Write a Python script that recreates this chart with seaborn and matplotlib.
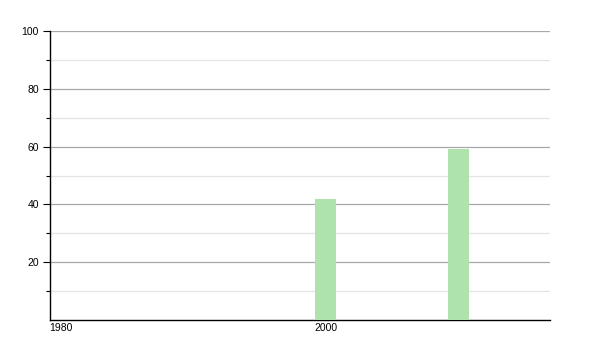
import matplotlib
matplotlib.use("Agg")
import matplotlib.pyplot as plt
import seaborn as sns
import pandas as pd

years = [2000, 2010]
values = [42, 59]
y_ticks = [20, 40, 60, 80, 100]
y_minor = [10, 30, 50, 70, 90]
x_ticks = [1980, 2000]
x_labels = ["1980", "2000"]

sns.set_style("white")
plt.rcParams['font.family'] = ['Liberation Sans', 'DejaVu Sans']

fig = plt.figure(figsize=(6, 3.5), dpi=100)
ax = fig.add_axes([50/600, 30/350, 500/600, 289/350])

df = pd.DataFrame({"year": years, "value": values})
sns.barplot(data=df, x="year", y="value", native_scale=True, width=0.16,
            color="#aee3ae", saturation=1, linewidth=0, edgecolor="none",
            ax=ax, zorder=3)

ax.set_xlim(1979.2, 2016.9)
ax.set_ylim(0, 100)
ax.set_yticks(y_ticks)
ax.set_yticklabels([str(t) for t in y_ticks])
ax.set_yticks(y_minor, minor=True)
ax.set_xticks(x_ticks)
ax.set_xticklabels(x_labels)

ax.grid(axis="y", which="major", color="#a8a8a8", linewidth=0.9, zorder=0)
ax.grid(axis="y", which="minor", color="#e4e4e4", linewidth=0.9, zorder=0)
ax.grid(axis="x", visible=False)
ax.set_axisbelow(True)

for s in ["top", "right"]:
    ax.spines[s].set_visible(False)
ax.spines["left"].set_color("black")
ax.spines["bottom"].set_color("black")
ax.spines["left"].set_linewidth(1)
ax.spines["bottom"].set_linewidth(1)

ax.tick_params(axis="y", which="major", length=5, width=0.8, color="black",
               labelsize=7.5, labelcolor="black", pad=3, left=True)
ax.tick_params(axis="y", which="minor", length=3, width=0.8, color="black", left=True)
ax.tick_params(axis="x", which="both", length=0, labelsize=7.5,
               labelcolor="black", pad=2)

ax.set_xlabel("")
ax.set_ylabel("")

fig.savefig("out.png", dpi=100)
